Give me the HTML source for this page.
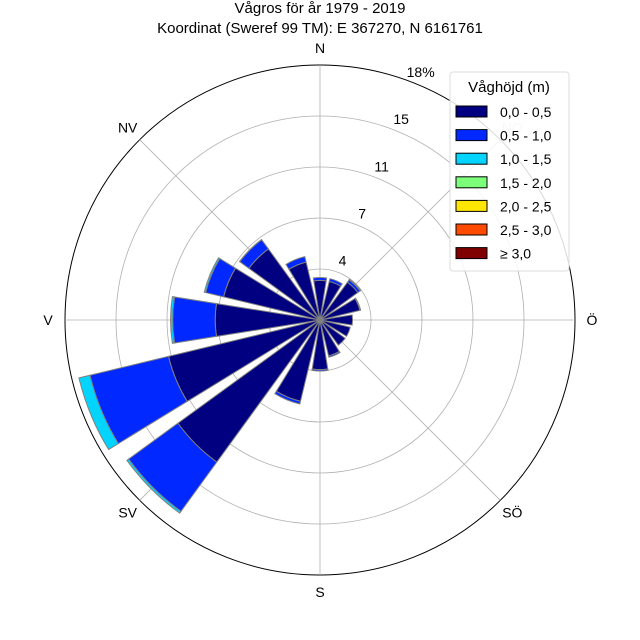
<!DOCTYPE html>
<html><head><meta charset="utf-8"><style>
body{margin:0;background:#fff}
svg{display:block;font-family:"Liberation Sans",sans-serif}
</style></head><body>
<svg id="chart" width="640" height="640" viewBox="0 0 640 640">
<text x="320" y="13" text-anchor="middle" font-size="15">Vågros för år 1979 - 2019</text>
<text x="320" y="33" text-anchor="middle" font-size="15">Koordinat (Sweref 99 TM): E 367270, N 6161761</text>
<g id="grid"></g>
<g id="bars"></g>
<g id="labels"></g>
<g id="legend"></g>
</svg>
<script>
const directions = ["N","NNO","NO","ONO","Ö","OSO","SÖ","SSO","S","SSV","SV","VSV","V","VNV","NV","NNV"];
const bin1 = [2.8,2.8,3.3,2.9,2.3,2.2,2.2,2.6,3.5,5.9,12.4,11.0,7.4,7.0,6.2,4.2];
const bin2 = [0.2,0.2,0.2,0.05,0,0,0,0.1,0.1,0.2,4.3,5.7,3.0,1.3,0.8,0.4];
const bin3 = [0,0,0.05,0,0,0,0,0,0,0,0.15,0.8,0.15,0.1,0.02,0];
const bin4 = [0,0,0,0,0,0,0,0,0,0,0,0,0,0,0,0];
const bin5 = [0,0,0,0,0,0,0,0,0,0,0,0,0,0,0,0];
const bin6 = [0,0,0,0,0,0,0,0,0,0,0,0,0,0,0,0];
const bin7 = [0,0,0,0,0,0,0,0,0,0,0,0,0,0,0,0];
const binLabels = ["0,0 - 0,5","0,5 - 1,0","1,0 - 1,5","1,5 - 2,0","2,0 - 2,5","2,5 - 3,0","≥ 3,0"];
const rTicks = [3.6,7.2,10.8,14.4,18];
const rTickLabels = ["4","7","11","15","18%"];
const compassLabels = ["N","NO","Ö","SÖ","S","SV","V","NV"];
const rMax = 18;

const NS="http://www.w3.org/2000/svg";
const cx=320, cy=320, R=255;
const colors=["#000080","#0028ff","#00d4ff","#7cff79","#ffe600","#ff4a00","#800000"];
const bins=[bin1,bin2,bin3,bin4,bin5,bin6,bin7];
function rs(v){return v/rMax*R;}
function pt(r,degCompass){const a=(degCompass-90)*Math.PI/180;return [cx+r*Math.cos(a),cy+r*Math.sin(a)];}
function mk(tag,attrs,parent){const e=document.createElementNS(NS,tag);for(const k in attrs)e.setAttribute(k,attrs[k]);parent.appendChild(e);return e;}
const grid=document.getElementById('grid');
rTicks.forEach((t,i)=>{
  const c=mk('circle',{cx,cy,r:rs(t),fill:'none',stroke:i===rTicks.length-1?'#000':'#b0b0b0','stroke-width':i===rTicks.length-1?1:0.8},grid);
  
  
});
for(let k=0;k<8;k++){
  const [x,y]=pt(R,k*45);
  const l=mk('line',{x1:cx,y1:cy,x2:x,y2:y,stroke:'#b0b0b0','stroke-width':0.8},grid);
  
  
}
const bars=document.getElementById('bars');
const half=9;
directions.forEach((d,i)=>{
  const ang=i*22.5;let base=0;
  bins.forEach((b,j)=>{
    const v=b[i]; if(v<=0) return;
    const r0=rs(base), r1=rs(base+v);
    const a=pt(r0,ang-half),b2=pt(r1,ang-half),c=pt(r1,ang+half),e=pt(r0,ang+half);
    const p=mk('path',{d:`M${a[0]},${a[1]} L${b2[0]},${b2[1]} A${r1},${r1} 0 0 1 ${c[0]},${c[1]} L${e[0]},${e[1]} A${r0},${r0} 0 0 0 ${a[0]},${a[1]} Z`,fill:colors[j],stroke:'#808080','stroke-width':1},bars);
    
    
    base+=v;
  });
});
const labels=document.getElementById('labels');
rTickLabels.forEach((t,i)=>{
  const [x,y]=pt(rs(rTicks[i])+8,22.5);
  const tx=mk('text',{x:x,y:y,'text-anchor':'middle','font-size':14},labels);
  tx.textContent=t;
  
  
});
compassLabels.forEach((t,k)=>{
  const [x,y]=pt(272,k*45);
  const tx=mk('text',{x:x,y:y+5,'text-anchor':'middle','font-size':14,fill:k===1?'#ccc':'#000'},labels);
  tx.textContent=t;
  
  
});
const lg=document.getElementById('legend');
const box=mk('rect',{x:450,y:72,width:119,height:199,rx:3,fill:'#fff','fill-opacity':0.85,stroke:'#ddd'},lg);


const lt=mk('text',{x:509,y:92,'text-anchor':'middle','font-size':15},lg);
lt.textContent="Våghöjd (m)";


binLabels.forEach((t,j)=>{
  const y=106+j*23.6;
  const r=mk('rect',{x:456,y:y,width:31,height:11,fill:colors[j],stroke:'#000','stroke-width':1},lg);
  
  
  const tx=mk('text',{x:500,y:y+11,'font-size':14},lg);
  tx.textContent=t;
  
  
});
</script>
</body></html>
